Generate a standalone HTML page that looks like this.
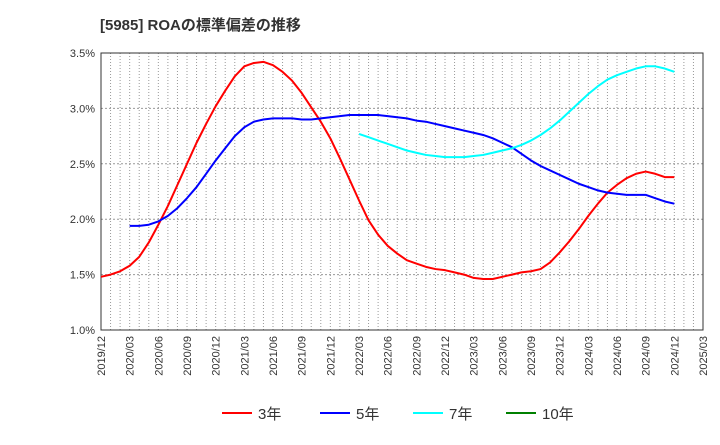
<!DOCTYPE html>
<html><head><meta charset="utf-8"><style>
body{margin:0;background:#fff;font-family:"Liberation Sans","Noto Sans CJK JP",sans-serif;}
</style></head><body>
<svg width="720" height="440" xmlns="http://www.w3.org/2000/svg" font-family="Liberation Sans, Noto Sans CJK JP, sans-serif">
<text x="100" y="30" font-size="15" font-weight="bold" fill="#333">[5985]  ROAの標準偏差の推移</text>
<g id="grid"></g><g id="axes"></g><g id="series"></g><g id="legend"></g>
</svg>
<script>
const xLabels=["2019/12","2020/03","2020/06","2020/09","2020/12","2021/03","2021/06","2021/09","2021/12","2022/03","2022/06","2022/09","2022/12","2023/03","2023/06","2023/09","2023/12","2024/03","2024/06","2024/09","2024/12","2025/03"];
const yTicks=[1.0,1.5,2.0,2.5,3.0,3.5];
const s3=[1.48,1.50,1.53,1.58,1.66,1.79,1.95,2.12,2.31,2.50,2.69,2.86,3.02,3.16,3.29,3.38,3.41,3.42,3.39,3.33,3.25,3.14,3.01,2.88,2.73,2.55,2.36,2.17,1.99,1.86,1.76,1.69,1.63,1.60,1.57,1.55,1.54,1.52,1.50,1.47,1.46,1.46,1.48,1.50,1.52,1.53,1.55,1.61,1.70,1.80,1.91,2.03,2.14,2.24,2.31,2.37,2.41,2.43,2.41,2.38,2.38];
const s5Start=3;
const s5=[1.94,1.94,1.95,1.98,2.03,2.10,2.19,2.29,2.41,2.53,2.64,2.75,2.83,2.88,2.90,2.91,2.91,2.91,2.90,2.90,2.91,2.92,2.93,2.94,2.94,2.94,2.94,2.93,2.92,2.91,2.89,2.88,2.86,2.84,2.82,2.80,2.78,2.76,2.73,2.69,2.65,2.59,2.53,2.48,2.44,2.40,2.36,2.32,2.29,2.26,2.24,2.23,2.22,2.22,2.22,2.19,2.16,2.14];
const s7Start=27;
const s7=[2.77,2.74,2.71,2.68,2.65,2.62,2.60,2.58,2.57,2.56,2.56,2.56,2.57,2.58,2.60,2.62,2.64,2.67,2.71,2.76,2.82,2.89,2.97,3.05,3.13,3.20,3.26,3.30,3.33,3.36,3.38,3.38,3.36,3.33];
const s10=[];
const L=101,R=703,T=53,B=330,NM=63;
const X=i=>L+(R-L)*i/NM, Y=v=>B-(v-1.0)/2.5*(B-T);
const NS="http://www.w3.org/2000/svg";
function mk(tag,attrs,parent){const e=document.createElementNS(NS,tag);for(const k in attrs)e.setAttribute(k,attrs[k]);document.getElementById(parent).appendChild(e);return e;}
for(let m=1;m<NM;m++){const e=mk('line',{x1:X(m),x2:X(m),y1:T,y2:B,stroke:'#999','stroke-dasharray':'1,2','stroke-width':1},'grid');

}
yTicks.forEach(v=>{if(v>1.0&&v<3.5){const e=mk('line',{x1:L,x2:R,y1:Y(v),y2:Y(v),stroke:'#999','stroke-dasharray':'2,2'},'grid');

}
const t=mk('text',{x:L-6,y:Y(v)+4,'text-anchor':'end','font-size':11,fill:'#333'},'axes');t.textContent=v.toFixed(1)+'%';

});
const fr=mk('rect',{x:L,y:T,width:R-L,height:B-T,fill:'none',stroke:'#333','stroke-width':1},'axes');


xLabels.forEach((s,i)=>{const x=X(i*3)+4;const t=mk('text',{x:x,y:B+6,'text-anchor':'end','font-size':11,fill:'#333',transform:`rotate(-90 ${x} ${B+6})`},'axes');t.textContent=s;

});
function line(arr,start,color,name){if(!arr.length)return;const p=mk('polyline',{points:arr.map((v,i)=>X(start+i)+','+Y(v)).join(' '),fill:'none',stroke:color,'stroke-width':2,'stroke-linejoin':'round'},'series');

}
line(s3,0,'#ff0000','series-3y');line(s5,s5Start,'#0000ff','series-5y');line(s7,s7Start,'#00ffff','series-7y');line(s10,0,'#008000','series-10y');
[["3年","#ff0000",222],["5年","#0000ff",320],["7年","#00ffff",413],["10年","#008000",506]].forEach(([n,c,x])=>{
const l=mk('line',{x1:x,x2:x+30,y1:413,y2:413,stroke:c,'stroke-width':2},'legend');


const t=mk('text',{x:x+36,y:419,'font-size':15,fill:'#333'},'legend');t.textContent=n;

});
</script>
</body></html>
